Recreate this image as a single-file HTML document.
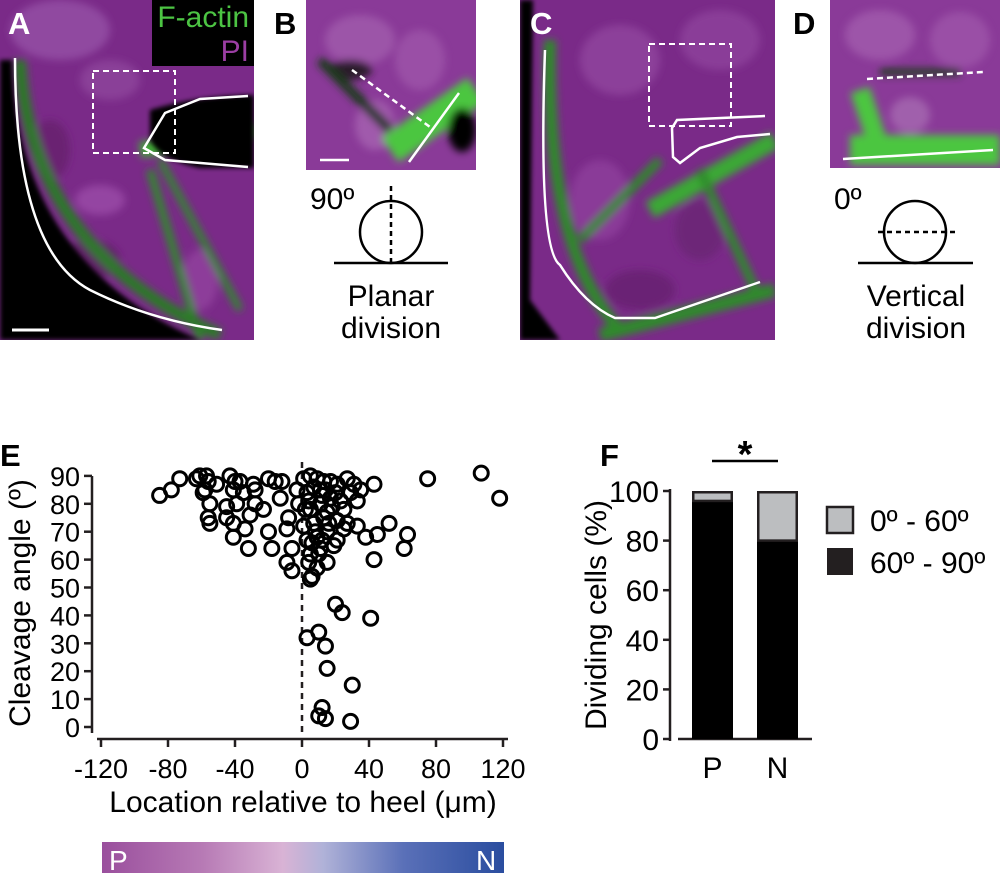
<!DOCTYPE html>
<html><head><meta charset="utf-8"><style>
html,body{margin:0;padding:0;background:#fff;}
svg{display:block;font-family:"Liberation Sans",Arial,sans-serif;}
</style></head><body>
<svg id="fig" width="1000" height="880" viewBox="0 0 1000 880" xmlns="http://www.w3.org/2000/svg">
<defs>
<filter id="bl" x="-20%" y="-20%" width="140%" height="140%"><feGaussianBlur stdDeviation="4"/></filter>
<filter id="bl2" x="-20%" y="-20%" width="140%" height="140%"><feGaussianBlur stdDeviation="2.5"/></filter>
<clipPath id="cA"><rect x="0" y="0" width="254" height="340"/></clipPath>
<clipPath id="cB"><rect x="306" y="0" width="170" height="170"/></clipPath>
<clipPath id="cC"><rect x="520" y="0" width="255" height="340"/></clipPath>
<clipPath id="cD"><rect x="830" y="0" width="170" height="168"/></clipPath>
<linearGradient id="cbar" x1="0" x2="1" y1="0" y2="0">
<stop offset="0" stop-color="#9a4f9d"/><stop offset="0.25" stop-color="#b77ab5"/><stop offset="0.45" stop-color="#d9b3d5"/><stop offset="0.55" stop-color="#b0b2d8"/><stop offset="0.75" stop-color="#5a70b8"/><stop offset="1" stop-color="#2a4d9f"/>
</linearGradient>
</defs>

<!-- Panel A -->
<g clip-path="url(#cA)">
<rect x="0" y="0" width="254" height="340" fill="#7a2a88"/>
<g filter="url(#bl)">
<ellipse cx="60" cy="30" rx="50" ry="30" fill="#9048a0"/>
<ellipse cx="110" cy="80" rx="30" ry="20" fill="#8a3f98"/>
<ellipse cx="50" cy="150" rx="20" ry="30" fill="#6a2272"/>
<ellipse cx="100" cy="200" rx="25" ry="15" fill="#9444a2"/>
<ellipse cx="90" cy="260" rx="30" ry="20" fill="#5e1e66"/>
<ellipse cx="200" cy="280" rx="18" ry="30" fill="#8d3c9a"/>
<path d="M150,170 L200,340" stroke="#2f8a2a" stroke-width="8" fill="none"/>
<path d="M160,160 L240,310" stroke="#2f8a2a" stroke-width="7" fill="none"/>
<path d="M140,150 L254,130" stroke="#3faa35" stroke-width="16" fill="none"/>
<path d="M20,60 Q30,250 220,335" stroke="#2c7a28" stroke-width="12" fill="none"/>
</g>
<path d="M0,60 L12,60 Q16,260 200,340 L0,340 Z" fill="#000" filter="url(#bl2)"/>
<path d="M150,110 Q200,95 254,95 L254,168 L200,168 Q160,160 150,140 Z" fill="#000" filter="url(#bl2)"/>
<rect x="152" y="0" width="102" height="66" fill="#000"/>
</g>
<path d="M15,58 Q15,250 90,290 Q150,320 222,330" stroke="#fff" stroke-width="2.5" fill="none"/>
<path d="M248,96 L200,99 L165,113 L144,148 L165,160 L248,167" stroke="#fff" stroke-width="2.5" fill="none"/>
<rect x="93" y="71" width="82" height="82" fill="none" stroke="#fff" stroke-width="2" stroke-dasharray="6,4"/>
<line x1="12" y1="330" x2="49" y2="330" stroke="#fff" stroke-width="3"/>
<text x="8" y="34" font-size="31" font-weight="bold" fill="#fff">A</text>
<text x="249" y="27" font-size="30" fill="#4cc443" text-anchor="end">F-actin</text>
<text x="249" y="61" font-size="30" fill="#9b3ea3" text-anchor="end">PI</text>

<!-- Panel B -->
<g clip-path="url(#cB)">
<rect x="306" y="0" width="170" height="170" fill="#8a3a98"/>
<g filter="url(#bl)">
<ellipse cx="360" cy="40" rx="35" ry="25" fill="#9c55a8"/>
<ellipse cx="420" cy="60" rx="25" ry="30" fill="#9a4fa6"/>
<ellipse cx="350" cy="70" rx="22" ry="10" fill="#2a1a2a"/>
<ellipse cx="375" cy="125" rx="20" ry="25" fill="#a05aac"/>
<path d="M390,150 L476,90" stroke="#4cc640" stroke-width="30" fill="none"/>
<ellipse cx="462" cy="130" rx="14" ry="22" fill="#000"/>
<path d="M320,60 L390,130" stroke="#1a3a1a" stroke-width="10" fill="none"/>
</g>
</g>
<line x1="352" y1="70" x2="430" y2="127" stroke="#fff" stroke-width="2.5" stroke-dasharray="6,4"/>
<line x1="409" y1="162" x2="459" y2="93" stroke="#fff" stroke-width="2.5"/>
<line x1="320" y1="160" x2="349" y2="160" stroke="#fff" stroke-width="2.5"/>
<text x="274" y="34" font-size="31" font-weight="bold" fill="#000">B</text>
<g>
<line x1="334" y1="263" x2="448" y2="263" stroke="#000" stroke-width="2.5"/>
<circle cx="391" cy="232" r="31" fill="none" stroke="#000" stroke-width="2.5"/>
<line x1="391" y1="186" x2="391" y2="262" stroke="#000" stroke-width="2.5" stroke-dasharray="5,4"/>
</g>
<text x="310" y="209" font-size="30">90º</text>
<text x="391" y="306" font-size="30" text-anchor="middle">Planar</text>
<text x="391" y="338" font-size="30" text-anchor="middle">division</text>

<!-- Panel C -->
<g clip-path="url(#cC)">
<rect x="520" y="0" width="255" height="340" fill="#7a2a88"/>
<g filter="url(#bl)">
<ellipse cx="620" cy="60" rx="40" ry="35" fill="#8c3f9a"/>
<ellipse cx="720" cy="40" rx="40" ry="30" fill="#8a3e98"/>
<ellipse cx="600" cy="200" rx="30" ry="40" fill="#8a3a98"/>
<ellipse cx="700" cy="230" rx="25" ry="30" fill="#6d2578"/>
<ellipse cx="640" cy="290" rx="35" ry="20" fill="#6a2474"/>
<path d="M650,210 L775,140" stroke="#3aa835" stroke-width="18" fill="none"/>
<path d="M660,160 L580,240" stroke="#2f8a2a" stroke-width="9" fill="none"/>
<path d="M700,170 L760,300" stroke="#2f8a2a" stroke-width="9" fill="none"/>
<path d="M550,40 Q545,250 620,330" stroke="#2f8a2a" stroke-width="12" fill="none"/>
<path d="M600,335 L775,290" stroke="#2f8a2a" stroke-width="14" fill="none"/>
</g>
<path d="M520,0 L533,0 L530,300 L560,340 L520,340 Z" fill="#000" filter="url(#bl2)"/>
</g>
<path d="M545,50 Q538,250 560,265 Q585,305 615,318 L655,318 L760,282" stroke="#fff" stroke-width="2.5" fill="none"/>
<path d="M765,116 L677,120 L672,128 L673,157 L680,163 L700,148 L737,137 L770,134" stroke="#fff" stroke-width="2.5" fill="none"/>
<rect x="649" y="44" width="82" height="82" fill="none" stroke="#fff" stroke-width="2" stroke-dasharray="6,4"/>
<text x="530" y="34" font-size="31" font-weight="bold" fill="#fff">C</text>

<!-- Panel D -->
<g clip-path="url(#cD)">
<rect x="830" y="0" width="170" height="168" fill="#8a3a98"/>
<g filter="url(#bl)">
<ellipse cx="880" cy="35" rx="35" ry="25" fill="#9d55a9"/>
<ellipse cx="960" cy="40" rx="30" ry="28" fill="#9a50a6"/>
<ellipse cx="910" cy="115" rx="20" ry="18" fill="#a060ac"/>
<path d="M850,150 L1000,150" stroke="#4cc640" stroke-width="30" fill="none"/>
<path d="M860,90 L880,150" stroke="#4cc640" stroke-width="20" fill="none"/>
<path d="M880,72 L960,72" stroke="#2a3a2a" stroke-width="8" fill="none"/>
</g>
</g>
<line x1="867" y1="79" x2="983" y2="72" stroke="#fff" stroke-width="2.5" stroke-dasharray="6,4"/>
<line x1="843" y1="159" x2="993" y2="150" stroke="#fff" stroke-width="2.5"/>
<text x="793" y="34" font-size="31" font-weight="bold" fill="#000">D</text>
<g>
<line x1="858" y1="263" x2="973" y2="263" stroke="#000" stroke-width="2.5"/>
<circle cx="915" cy="232" r="31" fill="none" stroke="#000" stroke-width="2.5"/>
<line x1="878" y1="232" x2="956" y2="232" stroke="#000" stroke-width="2.5" stroke-dasharray="5,4"/>
</g>
<text x="834" y="209" font-size="30">0º</text>
<text x="916" y="306" font-size="30" text-anchor="middle">Vertical</text>
<text x="916" y="338" font-size="30" text-anchor="middle">division</text>

<!-- Panel E -->
<text x="0" y="466" font-size="31" font-weight="bold">E</text>
<g id="scatter"></g>
<text transform="translate(30,603) rotate(-90)" font-size="30" text-anchor="middle">Cleavage angle (º)</text>
<text x="303" y="812" font-size="30" text-anchor="middle">Location relative to heel (μm)</text>
<rect x="102" y="842" width="402" height="31" fill="url(#cbar)"/>
<text x="109" y="870" font-size="28" fill="#fff">P</text>
<text x="476" y="870" font-size="28" fill="#fff">N</text>

<!-- Panel F -->
<text x="600" y="466" font-size="31" font-weight="bold">F</text>
<g id="bars"></g>
<text transform="translate(606,615) rotate(-90)" font-size="30" text-anchor="middle">Dividing cells (%)</text>
<line x1="712" y1="461" x2="778" y2="461" stroke="#000" stroke-width="2.5"/>
<text x="745" y="467" font-size="38" font-weight="bold" text-anchor="middle">*</text>
<rect x="827" y="507" width="26" height="26" fill="#bcbec0" stroke="#231f20" stroke-width="2.5"/>
<rect x="827" y="548" width="26" height="27" fill="#231f20"/>
<text x="870" y="531" font-size="30">0º - 60º</text>
<text x="870" y="573" font-size="30">60º - 90º</text>
</svg>
<script>
// Scatter data (E)
const locs = [-85,-78,-73,-63,-61,-57,-56,-58,-59,-55,-56,-55,-51,-43,-40,-37,-41,-35,-29,-28,-45,-39,-28,-23,-31,-45,-41,-34,-41,-32,-20,-18,-20,-16,-12,-13,-8,-9,-6,-9,-6,-3,-2,1,5,9,3,13,17,21,27,31,35,43,5,11,17,23,29,33,1,7,13,21,27,33,3,9,15,21,25,5,11,19,4,9,15,6,38,45,52,63,61,43,75,107,118,2,11,25,7,12,15,8,18,10,6,14,20,4,16,12,20,24,41,3,10,14,15,30,12,10,14,29,5];
const angles = [83,85,89,89,90,90,88,85,84,80,75,73,87,90,88,88,85,84,87,85,79,80,80,78,76,75,73,71,68,64,70,64,89,88,88,82,75,71,64,59,56,85,80,89,90,89,84,88,88,87,89,87,85,87,78,80,82,81,84,81,72,73,75,74,73,72,67,68,70,67,71,62,64,65,59,57,59,54,68,69,73,69,64,60,89,91,82,78,85,78,86,83,77,70,79,62,66,85,84,81,73,67,44,41,39,32,34,29,21,15,7,4,3,2,53];
const xTicks = [-120,-80,-40,0,40,80,120];
const yTicks = [0,10,20,30,40,50,60,70,80,90];
const NS='http://www.w3.org/2000/svg';
function mk(tag,attrs,parent){const e=document.createElementNS(NS,tag);for(const k in attrs)e.setAttribute(k,attrs[k]);parent.appendChild(e);return e;}
const sx = v => 302 + v*1.675;
const sy = v => 727 - v*2.79;
const sc = document.getElementById('scatter');
let ax = mk('line',{x1:92,y1:476,x2:92,y2:733,stroke:'#231f20','stroke-width':2.5},sc);


yTicks.forEach(t=>{
  const l=mk('line',{x1:84,x2:92,y1:sy(t),y2:sy(t),stroke:'#231f20','stroke-width':2.5},sc);
  
  
  const tx=mk('text',{x:80,y:sy(t)+10,'font-size':27,'text-anchor':'end'},sc);tx.textContent=t;
  
  
});
let bx = mk('line',{x1:97,y1:739,x2:508,y2:739,stroke:'#231f20','stroke-width':2.5},sc);


xTicks.forEach(t=>{
  const l=mk('line',{x1:sx(t),x2:sx(t),y1:739,y2:747,stroke:'#231f20','stroke-width':2.5},sc);
  
  
  const tx=mk('text',{x:sx(t),y:778,'font-size':27,'text-anchor':'middle'},sc);tx.textContent=t;
  
  
});
let z = mk('line',{x1:sx(0),x2:sx(0),y1:462,y2:737,stroke:'#231f20','stroke-width':2.5,'stroke-dasharray':'6,5'},sc);


locs.forEach((v,i)=>{
  const c=mk('circle',{cx:sx(v),cy:sy(angles[i]),r:7,fill:'none',stroke:'#000','stroke-width':3},sc);
  
  
});

// Bar data (F)
const groups = ['P','N'];
const pct6090 = [96,80];
const pct060 = [4,20];
const fTicks = [0,20,40,60,80,100];
const by = v => 739 - v*2.48;
const bg = document.getElementById('bars');
let fa = mk('line',{x1:670,y1:489,x2:670,y2:741,stroke:'#231f20','stroke-width':2.5},bg);


fTicks.forEach(t=>{
  const l=mk('line',{x1:663,x2:670,y1:by(t),y2:by(t),stroke:'#231f20','stroke-width':2.5},bg);
  
  
  const tx=mk('text',{x:659,y:by(t)+11,'font-size':30,'text-anchor':'end'},bg);tx.textContent=t;
  
  
});
let fb = mk('line',{x1:678,y1:739,x2:812,y2:739,stroke:'#231f20','stroke-width':2.5},bg);


groups.forEach((g,i)=>{
  const x0 = 692 + i*65, w = 41;
  const b1=mk('rect',{x:x0,y:by(pct6090[i]),width:w,height:by(0)-by(pct6090[i]),fill:'#000'},bg);
  
  
  const top=pct6090[i]+pct060[i];
  const b2=mk('rect',{x:x0+1.25,y:by(top)+1.25,width:w-2.5,height:by(pct6090[i])-by(top)-1.25,fill:'#bcbec0',stroke:'#231f20','stroke-width':2.5},bg);
  
  
  const tx=mk('text',{x:x0+w/2,y:778,'font-size':30,'text-anchor':'middle'},bg);tx.textContent=g;
  
  
});
</script>
</body></html>
